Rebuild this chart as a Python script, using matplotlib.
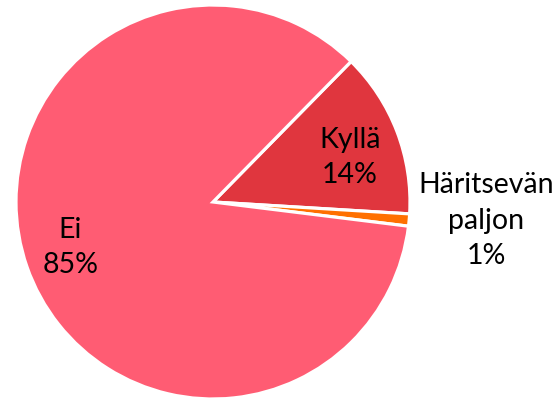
import numpy as np
import matplotlib
matplotlib.use("Agg")
import matplotlib.pyplot as plt

# slice data, clockwise from the upper right
categories = ["Kyllä", "Häritsevän\npaljon", "Ei"]
values = [13.6, 1.0, 85.4]
colors = ["#E0363E", "#FF7000", "#FF5C73"]

# label placement: distance from centre (radii) and angle shift from slice middle
label_dist = [0.73, 1.39, 0.76]
label_shift = [-3.0, 1.3, -1.5]

plt.rcParams['font.family'] = ['Lato', 'DejaVu Sans']

fig = plt.figure(figsize=(5.6, 3.99), dpi=100)
ax = fig.add_axes([16 / 560, 0.0, 394 / 560, 394 / 399])

wedges, _ = ax.pie(values, colors=colors, startangle=45.5, counterclock=False,
                   wedgeprops=dict(edgecolor="white", linewidth=2.3))
ax.set_xlim(-1, 1)
ax.set_ylim(-1, 1)
ax.set_aspect("equal")
ax.axis("off")

for w, cat, v, d, s in zip(wedges, categories, values, label_dist, label_shift):
    ang = np.deg2rad((w.theta1 + w.theta2) / 2 + s)
    ax.text(d * np.cos(ang), d * np.sin(ang), "%s\n%.0f%%" % (cat, v),
            ha="center", va="center", fontsize=20.5, color="black",
            linespacing=1.45, clip_on=False)

fig.savefig("out.png", dpi=100)
